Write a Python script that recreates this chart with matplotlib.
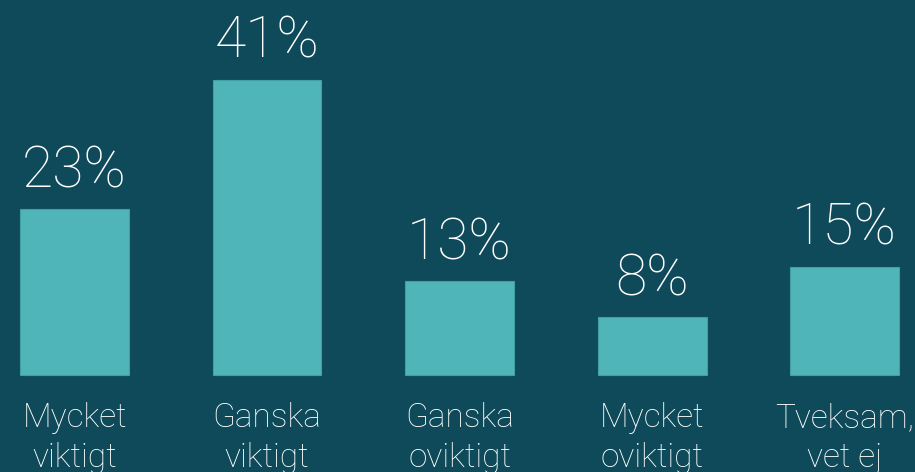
#!/usr/bin/env python3
# -*- coding: utf-8 -*-
"""
Bar chart of importance answers, in percent
"""

import matplotlib
matplotlib.use("Agg")
import matplotlib.pyplot as plt

categories = ["Mycket\nviktigt", "Ganska\nviktigt", "Ganska\noviktigt",
              "Mycket\noviktigt", "Tveksam,\nvet ej"]
values = [23, 41, 13, 8, 15]

BG = "#0f4a5a"
BAR = "#50b5b9"

plt.rcParams['font.family'] = ['Roboto', 'DejaVu Sans']

fig = plt.figure(figsize=(9.15, 4.72), dpi=100, facecolor=BG)
ax = fig.add_axes([0, 0, 1, 1])
ax.set_facecolor(BG)

x = list(range(len(values)))
ax.bar(x, values, width=0.566, color=BAR, edgecolor="#3f9fa5", linewidth=0.8)

# value on top of each bar
for xi, v in zip(x, values):
    ax.annotate("{}%".format(v), (xi, v), xytext=(0, 16),
                textcoords='offset points', ha='center', va='baseline',
                fontsize=41, fontweight='light', color='white')

# category names below bars (baseline of last line)
for xi, lab in zip(x, categories):
    ax.annotate(lab, (xi, 0), xytext=(0, -66), textcoords='offset points',
                ha='center', va='baseline', fontsize=24, fontweight='light',
                color='white', linespacing=1.3)

ax.set_xlim(-0.387, 4.366)
ax.set_ylim(-13.47, 52.08)
ax.axis('off')

fig.savefig("out.png", dpi=100, facecolor=BG)
